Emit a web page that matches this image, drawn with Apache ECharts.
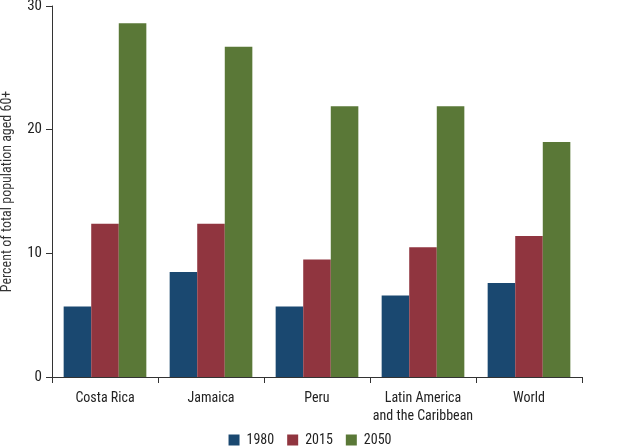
<!DOCTYPE html>
<html><head><meta charset="utf-8">
<script src="https://cdn.jsdelivr.net/npm/echarts@6/dist/echarts.min.js"></script>
<style>html,body{margin:0;padding:0;background:#fff}#c{width:620px;height:447px}</style>
</head><body><div id="c"></div>
<script>
const categories = ['Costa Rica','Jamaica','Peru','Latin America\nand the Caribbean','World'];
const seriesNames = ['1980','2015','2050'];
const v1980 = [5.7, 8.5, 5.7, 6.6, 7.6];
const v2015 = [12.4, 12.4, 9.5, 10.5, 11.4];
const v2050 = [28.6, 26.7, 21.9, 21.9, 19.0];
const yTicks = [0, 10, 20, 30];
const colors = ['#1a4870','#90353f','#5a7837'];
const font = '"Liberation Sans Narrow", "Roboto Condensed", Roboto, sans-serif';
const chart = echarts.init(document.getElementById('c'));
const vals = [v1980, v2015, v2050];
chart.setOption({
  animation:false,
  textStyle:{fontFamily:font},
  grid:{left:52,right:38,top:6,bottom:70,outerBoundsMode:'none',containLabel:false},
  legend:{bottom:0,left:'center',padding:0,itemWidth:11,itemHeight:11,itemGap:13,icon:'rect',
    textStyle:{fontFamily:font,fontSize:14,color:'#222',padding:[0,0,0,2]},data:seriesNames},
  xAxis:{type:'category',data:categories,
    axisLine:{lineStyle:{color:'#333',width:1}},
    axisTick:{show:true,length:6,lineStyle:{color:'#333'}},
    axisLabel:{interval:0,fontFamily:font,fontSize:14,color:'#222',margin:12,lineHeight:18}},
  yAxis:{type:'value',min:yTicks[0],max:yTicks[yTicks.length-1],interval:10,
    name:'Percent of total population aged 60+',nameLocation:'middle',nameGap:38,
    nameTextStyle:{fontFamily:font,fontSize:14,color:'#333'},
    axisLine:{show:true,lineStyle:{color:'#333'}},
    axisTick:{show:true,length:6,lineStyle:{color:'#333'}},
    axisLabel:{fontFamily:font,fontSize:15,color:'#222',margin:10},
    splitLine:{show:false}},
  series: seriesNames.map((n,i)=>({name:n,type:'bar',data:vals[i],
    itemStyle:{color:colors[i]},barGap:'0%',barCategoryGap:'22%'}))
});
</script></body></html>
